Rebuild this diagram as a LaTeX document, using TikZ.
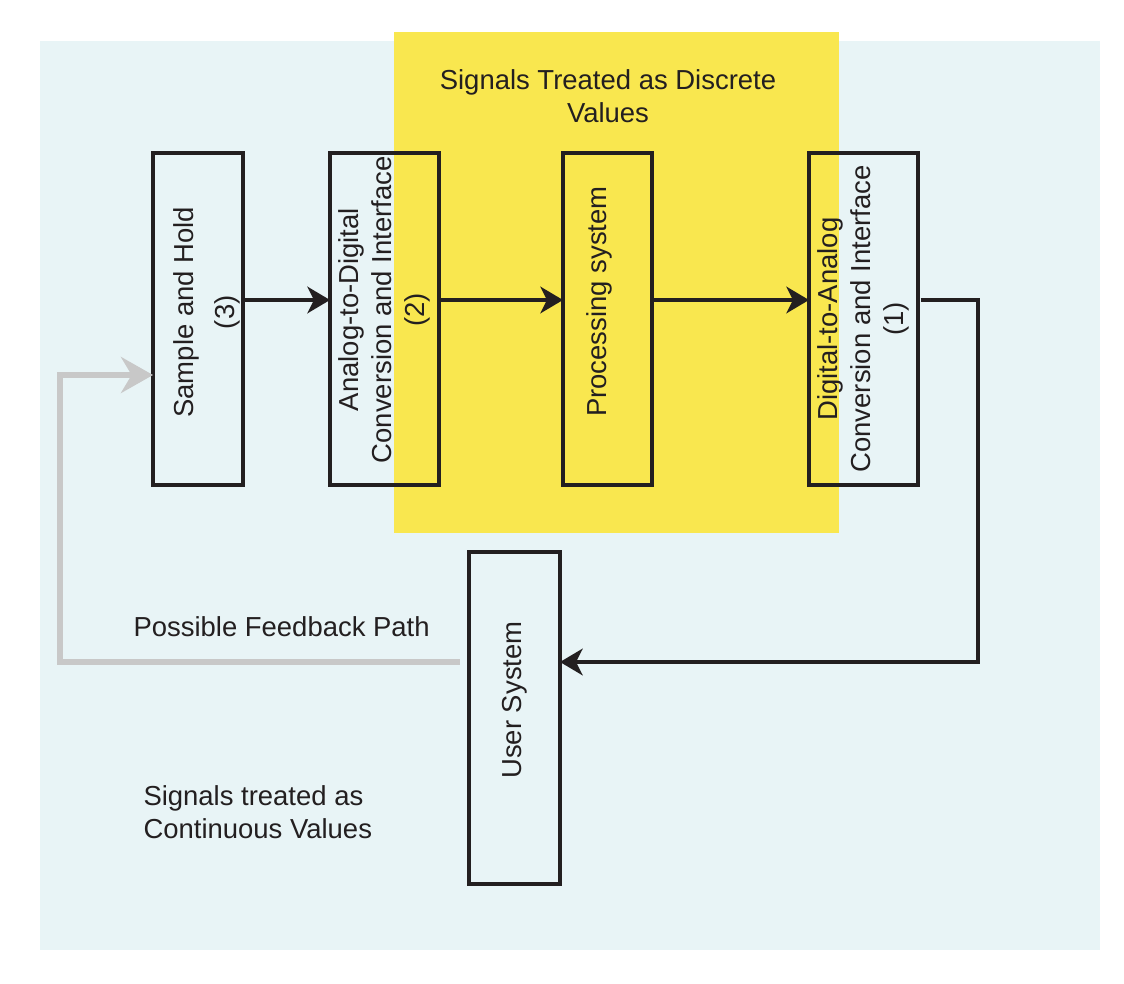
\documentclass[tikz,border=0pt]{standalone}
\usepackage{fontspec}
\setmainfont{Liberation Sans}
\usetikzlibrary{arrows.meta}

\definecolor{bgblue}{RGB}{232,244,246}
\definecolor{discyellow}{RGB}{249,231,79}
\definecolor{ink}{RGB}{35,31,32}
\definecolor{fbgray}{RGB}{200,200,200}

\tikzset{every picture/.style={line width=0.75pt}}
\tikzset{
  block/.style={draw=ink, line width=3pt, inner sep=0pt, outer sep=0pt, minimum height=249pt},
  vtext/.style={rotate=90, align=center, text=ink, inner sep=0pt, font=\fontsize{20.6}{24.75}\selectfont},
  htext/.style={text=ink, inner sep=0pt, font=\fontsize{20.6}{24.75}\selectfont},
  flow/.style={draw=ink, line width=2.7pt, -{Stealth[length=17pt,width=20pt,inset=5pt]}},
  feedback/.style={draw=fbgray, line width=4pt, -{Stealth[length=24pt,width=27pt,inset=8pt]}},
}

\begin{document}
\begin{tikzpicture}[x=0.75pt,y=0.75pt,yscale=-1,xscale=1]
\useasboundingbox (0,0) rectangle (1124,984);

%Shapes: areas
\fill [bgblue] (40,41) rectangle (1100,950);
\fill [discyellow] (394,32) rectangle (839,533);

%Shapes: blocks
\node [block, minimum width=67.5pt] (sh) at (198,319) {};
\node [block, minimum width=81.75pt] (adc) at (384.5,319) {};
\node [block, minimum width=66.75pt] (proc) at (607.5,319) {};
\node [block, minimum width=81.75pt] (dac) at (863.5,319) {};
\node [block, minimum width=68.25pt] (us) at (514.5,718) {};

%Coordinates for the connectors
\coordinate (row) at (0,300);
\coordinate (ret) at (978,662);
\coordinate (loop) at (60,375);

%Straight Lines
\draw [flow] (sh.east |- row) -- (adc.west |- row);
\draw [flow] (adc.east |- row) -- (proc.west |- row);
\draw [flow] (proc.east |- row) -- (dac.west |- row);
\draw [flow] ([xshift=2pt]dac.east |- row) -| (ret) -- (us.east |- ret);
\draw [feedback] ([xshift=-7pt]us.west |- ret) -| (loop) -- (sh.west |- loop);

% Text Node
\node [vtext] (shtxt) at ([xshift=7pt,yshift=-5pt]sh.center) {Sample and Hold\\[6pt](3)};
% Text Node
\node [vtext] (adctxt) at ([yshift=-7pt]adc.center) {Analog-to-Digital\\Conversion and Interface\\(2)};
% Text Node
\node [vtext] (proctxt) at ([xshift=-6pt,yshift=-13pt]proc.center) {Processing system};
% Text Node
\node [vtext] (dactxt) at (dac.center) {Digital-to-Analog\\Conversion and Interface\\(1)};
% Text Node
\node [vtext] (ustxt) at ([yshift=-13.5pt]us.center) {User System};
% Text Node
\node [htext, align=center] (disc) at (608,96) {Signals Treated as Discrete\\Values};
% Text Node
\node [htext, anchor=west] (fbtxt) at (133,627) {Possible Feedback Path};
% Text Node
\node [htext, anchor=west, align=left] (cont) at (143,812) {Signals treated as\\Continuous Values};

\end{tikzpicture}
\end{document}
